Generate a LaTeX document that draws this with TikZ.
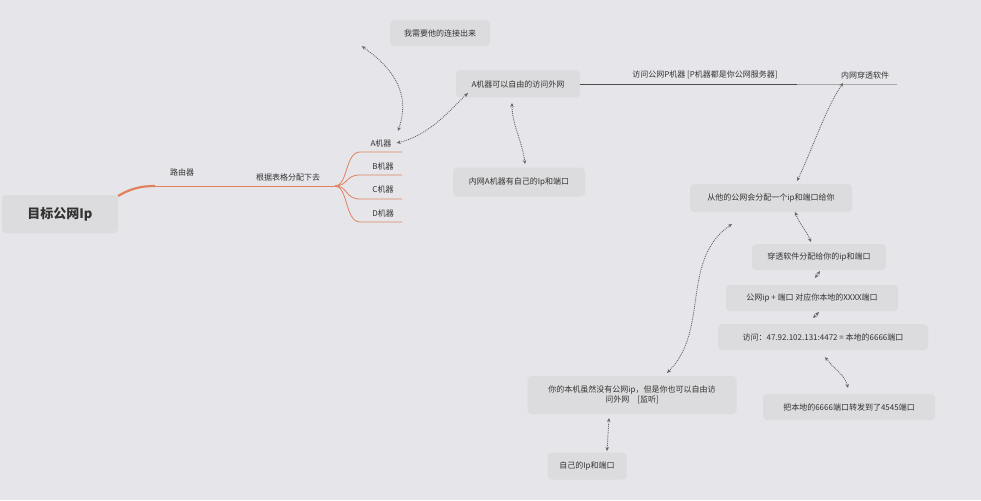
\documentclass[tikz,border=0pt]{standalone}
\usepackage{fontspec}
\setmainfont{Noto Sans CJK SC}
\usetikzlibrary{arrows.meta}
\definecolor{bg}{HTML}{E6E6EA}
\definecolor{boxc}{HTML}{DCDCDE}
\definecolor{orng}{HTML}{E0825E}
\definecolor{txt}{HTML}{333333}
\tikzset{
  x=1pt,y=-1pt,
  bx/.style={fill=boxc,rounded corners=4pt,text=txt,font=\fontsize{8}{10}\selectfont,inner sep=0pt,align=center},
  lb/.style={text=txt,font=\fontsize{8}{10}\selectfont,inner sep=1pt},
  dl/.style={draw=gray!80!black,densely dotted,line width=0.9pt,{Stealth[length=4pt,width=3.5pt]}-{Stealth[length=4pt,width=3.5pt]}},
  br/.style={draw=orng,line width=0.8pt},
}
\begin{document}
\begin{tikzpicture}
\fill[bg] (0,0) rectangle (981,500);
\useasboundingbox (0,0) rectangle (981,500);
% root
\node[bx,minimum width=116,minimum height=38,font=\fontsize{13}{15}\selectfont\bfseries] (root) at (60,214) {目标公网Ip};
\coordinate (r0) at (118,196);
\coordinate (rj) at (335,186);
\draw[orng,line width=2.2pt] (r0) .. controls (130,189) and (140,186) .. (155,186);
\draw[br,line width=1pt] (155,186) -- (rj);
\node[lb] (lr) at (182,172) {路由器};
\node[lb] (lt) at (288,177) {根据表格分配下去};
% machines
\node[lb] (ma) at (381,143) {A机器};
\node[lb] (mb) at (383,166) {B机器};
\node[lb] (mc) at (383,189) {C机器};
\node[lb] (md) at (383,213) {D机器};
\foreach \n/\y in {a/152,b/175,c/199,d/222}{
  \coordinate (e\n) at (402,\y);
  \draw[br] (rj) .. controls (348,186) and (345,\y) .. (360,\y) -- (e\n);
}
% top boxes
\node[bx,minimum width=100,minimum height=26] (need) at (440,33) {我需要他的连接出来};
\node[bx,minimum width=124,minimum height=27] (abox) at (518,84) {A机器可以自由的访问外网};
\node[bx,minimum width=132,minimum height=29] (inner) at (519,182) {内网A机器有自己的Ip和端口};
\coordinate (le) at (897,84);
\draw[gray!60!black,line width=0.9pt] (abox.east) -- (797,84);
\draw[gray!70,line width=0.9pt] (797,84) -- (le);
\node[lb] (lp) at (705,75) {访问公网P机器 [P机器都是你公网服务器]};
\node[lb] (soft) at (865,75) {内网穿透软件};
% right column
\node[bx,minimum width=162,minimum height=28] (assign) at (771,198) {从他的公网会分配一个ip和端口给你};
\node[bx,minimum width=134,minimum height=26] (pen) at (819,257) {穿透软件分配给你的ip和端口};
\node[bx,minimum width=172,minimum height=26] (pub) at (812,298) {公网ip + 端口 对应你本地的XXXX端口};
\node[bx,minimum width=210,minimum height=26] (vis) at (823,337) {访问：47.92.102.131:4472 = 本地的6666端口};
\node[bx,minimum width=172,minimum height=26] (fwd) at (849,407) {把本地的6666端口转发到了4545端口};
\node[bx,minimum width=209,minimum height=38] (local) at (632,395) {你的本机虽然没有公网ip，但是你也可以自由访\\问外网\quad[监听]};
\node[bx,minimum width=79,minimum height=27] (own) at (587,466) {自己的Ip和端口};
% dotted connectors
\draw[dl] (need.south west) ++(-28,0) .. controls (410,80) and (405,110) .. (398,131);
\draw[dl] ([xshift=4pt]ma.east) .. controls (430,135) and (450,110) .. (468,93);
\draw[dl] (512,103) .. controls (512,125) and (522,140) .. (525,164);
\draw[dl] (soft.south) ++(-22,3) .. controls (825,110) and (812,150) .. (797,181);
\draw[dl] (732,224) .. controls (680,260) and (710,330) .. (667,373);
\draw[dl] (795,212) .. controls (800,225) and (806,230) .. (811,242);
\draw[dl] (815,278) -- (820,271);
\draw[dl] (813,318) -- (819,312);
\draw[dl] (825,357) .. controls (835,370) and (845,375) .. (848,388);
\draw[dl] (609,418) -- (607,451);
\end{tikzpicture}
\end{document}
